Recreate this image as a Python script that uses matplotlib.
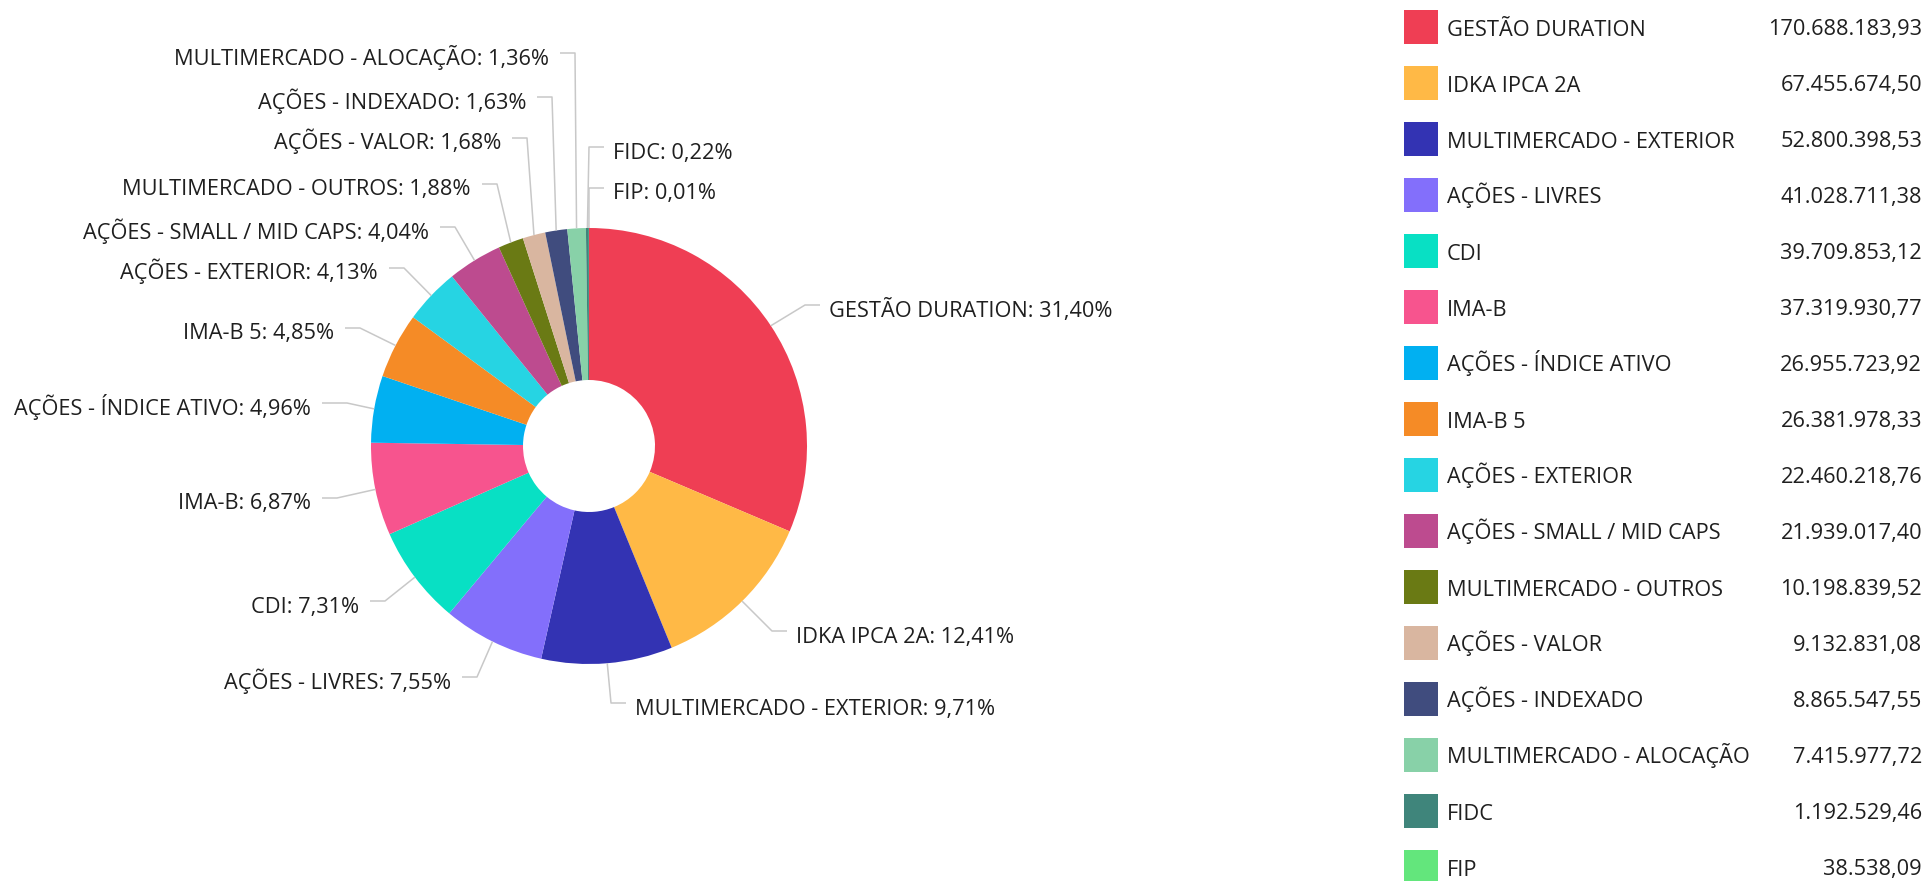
import numpy as np
import matplotlib
matplotlib.use("Agg")
import matplotlib.pyplot as plt
from matplotlib.patches import Rectangle

plt.rcParams['font.family'] = ['Open Sans', 'DejaVu Sans']

# dados
categorias = ["GESTÃO DURATION", "IDKA IPCA 2A", "MULTIMERCADO - EXTERIOR", "AÇÕES - LIVRES",
              "CDI", "IMA-B", "AÇÕES - ÍNDICE ATIVO", "IMA-B 5", "AÇÕES - EXTERIOR",
              "AÇÕES - SMALL / MID CAPS", "MULTIMERCADO - OUTROS", "AÇÕES - VALOR",
              "AÇÕES - INDEXADO", "MULTIMERCADO - ALOCAÇÃO", "FIDC", "FIP"]
valores = [170688183.93, 67455674.50, 52800398.53, 41028711.38, 39709853.12, 37319930.77,
           26955723.92, 26381978.33, 22460218.76, 21939017.40, 10198839.52, 9132831.08,
           8865547.55, 7415977.72, 1192529.46, 38538.09]
cores = ["#ef3e54", "#ffb946", "#3333b3", "#836ffb", "#08e0c4", "#f7548e", "#01b0f1", "#f58b26",
         "#26d4e3", "#bd4b8f", "#6a7a14", "#d9b6a0", "#404c7e", "#88d1a8", "#3f857b", "#63e67c"]

# layout dos rotulos (pixels): cotovelo x, cotovelo y, lado
cotovelos = [(805, 305, 'r'), (772, 631, 'r'), (611, 703, 'r'), (477, 677, 'l'),
             (385, 601, 'l'), (337, 498, 'l'), (347, 403, 'l'), (360, 328, 'l'),
             (404, 268, 'l'), (455, 227, 'l'), (497, 184, 'l'), (527, 138, 'l'),
             (552, 97, 'l'), (575, 53, 'l'), (589, 147, 'r'), (589, 188, 'r')]

W, H = 1928, 881
cx, cy, R, r_in = 589, 446, 218, 66
texto_cor = "#1f1f1f"
linha_cor = "#c8c8c8"
fs = 15.7


def fmt_br(v):
    s = f"{v:,.2f}"
    return s.replace(",", "X").replace(".", ",").replace("X", ".")


def Y(py):
    return H - py


fig = plt.figure(figsize=(W / 100, H / 100), dpi=100)
ax = fig.add_axes([0, 0, 1, 1])

ax.pie(valores, colors=cores, startangle=90, counterclock=False, radius=R,
       center=(cx, Y(cy)), wedgeprops=dict(width=R - r_in, linewidth=0))

total = sum(valores)
acum = 0
for i, v in enumerate(valores):
    pct = v / total * 100
    theta = np.radians((acum + pct / 2) * 3.6)
    acum += pct
    ax_x = cx + R * np.sin(theta)
    ax_y = cy - R * np.cos(theta)
    ex, ey, lado = cotovelos[i]
    seg = 25 if i == 6 else 15
    fim = ex + seg if lado == 'r' else ex - seg
    ax.plot([ax_x, ex, fim], [Y(ax_y), Y(ey), Y(ey)], color=linha_cor, lw=1.1,
            solid_capstyle='butt', zorder=1)
    rotulo = f"{categorias[i]}: {pct:.2f}%".replace(".", ",")
    if lado == 'r':
        ax.text(fim + 9, Y(ey + 11.5), rotulo, ha='left', va='baseline',
                fontsize=fs, color=texto_cor)
    else:
        ax.text(fim - 11, Y(ey + 11.5), rotulo, ha='right', va='baseline',
                fontsize=fs, color=texto_cor)

# legenda
for i, nome in enumerate(categorias):
    yc = 27 + 56 * i
    ax.add_patch(Rectangle((1404, Y(yc + 17)), 34, 34, facecolor=cores[i], edgecolor='none'))
    ax.text(1447, Y(yc + 8.5), nome, ha='left', va='baseline', fontsize=fs, color=texto_cor)
    ax.text(1922, Y(yc + 8.5), fmt_br(valores[i]), ha='right', va='baseline',
            fontsize=fs, color=texto_cor)

ax.set_xlim(0, W)
ax.set_ylim(0, H)
ax.set_aspect('auto')
ax.axis('off')

fig.savefig("out.png", dpi=100, facecolor='white')
